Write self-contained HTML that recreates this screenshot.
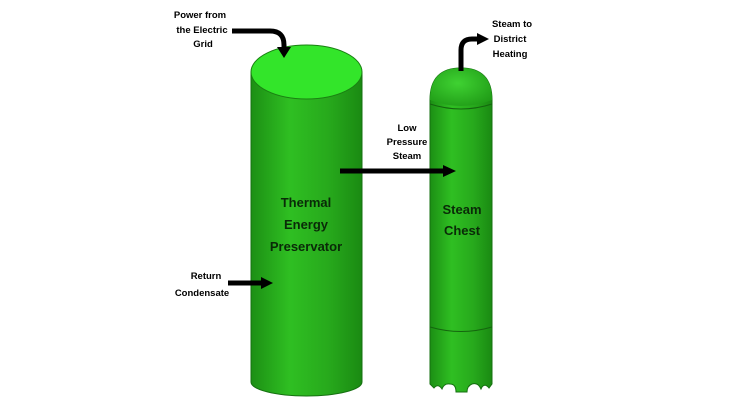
<!DOCTYPE html><html><head><style>body{margin:0;background:#fff}svg{display:block}text{font-family:"Liberation Sans",sans-serif;font-weight:bold;text-anchor:middle}</style></head><body>
<svg width="730" height="411" viewBox="0 0 730 411">
<defs>
<linearGradient id="g" x1="0" x2="1"><stop offset="0" stop-color="#1c8f14"/><stop offset="0.35" stop-color="#2fbf22"/><stop offset="0.7" stop-color="#27a91c"/><stop offset="1" stop-color="#1a8a12"/></linearGradient>
<radialGradient id="d" cx="0.45" cy="0.4" r="0.7"><stop offset="0" stop-color="#3fd232"/><stop offset="1" stop-color="#1f9a16"/></radialGradient>
</defs>
<path d="M251 72 L251 382 A55.5 14 0 0 0 362 382 L362 72 Z" fill="url(#g)" stroke="#157010" stroke-width="1"/>
<ellipse cx="306.5" cy="72" rx="55.5" ry="27" fill="#33e52a" stroke="#1a8012"/>
<path d="M430 100 Q430 68 461 68 Q492 68 492 100 L492 384 L489 388 Q485 383 482 387 L481 389 Q478 382 472 384 Q467 386 467 392 L456 392 Q456 384 450 384 Q444 383 442 389 Q438 383 434 388 L430 384 Z" fill="url(#g)" stroke="#157010"/>
<path d="M430 100 Q430 68 461 68 Q492 68 492 100 Q461 112 430 100Z" fill="url(#d)"/>
<path d="M430 104 Q461 114 492 104" fill="none" stroke="#14650e"/>
<path d="M430 327 Q461 336 492 327" fill="none" stroke="#14650e"/>
<g stroke="#000" stroke-width="5" fill="none">
<path d="M232 31 L270 31 Q284 31 284 45 L284 48"/>
<line x1="340" y1="171" x2="444" y2="171"/>
<line x1="228" y1="283" x2="262" y2="283"/>
<path d="M461 71 L461 50 Q461 39 472 39 L478 39"/>
</g>
<g fill="#000">
<polygon points="277,47 291,47 284,58"/>
<polygon points="443,165 456,171 443,177"/>
<polygon points="261,277 273,283 261,289"/>
<polygon points="477,33 489,39 477,45"/>
</g>
<g font-size="9.5">
<text x="200" y="18">Power from</text><text x="202" y="33">the Electric</text><text x="203" y="47">Grid</text>
<text x="407" y="131">Low</text><text x="407" y="145">Pressure</text><text x="407" y="159">Steam</text>
<text x="206" y="279">Return</text><text x="202" y="296">Condensate</text>
<text x="512" y="27">Steam to</text><text x="510" y="42">District</text><text x="510" y="57">Heating</text>
</g>
<g font-size="13" fill="#0a2a08">
<text x="306" y="207">Thermal</text><text x="306" y="229">Energy</text><text x="306" y="251">Preservator</text>
<text x="462" y="214">Steam</text><text x="462" y="235">Chest</text>
</g>
</svg></body></html>
